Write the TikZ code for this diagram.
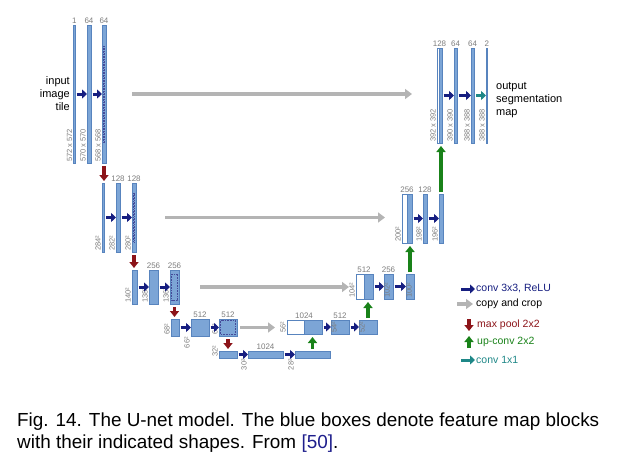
\documentclass[tikz,border=0pt]{standalone}
\usepackage{fontspec}
\setmainfont{Liberation Sans}
\usetikzlibrary{arrows.meta}
\usetikzlibrary{positioning}

\definecolor{boxblue}{RGB}{124,165,214}
\definecolor{boxedge}{RGB}{88,132,190}
\definecolor{convblue}{RGB}{22,30,128}
\definecolor{poolred}{RGB}{140,20,25}
\definecolor{upgreen}{RGB}{25,130,25}
\definecolor{outteal}{RGB}{30,135,135}
\definecolor{copygray}{RGB}{180,180,180}
\definecolor{numgray}{RGB}{125,125,125}
\definecolor{refblue}{RGB}{30,30,140}

\begin{document}
\begin{tikzpicture}[x=1pt, y=-1pt,
  fmap/.style={draw=boxedge, fill=boxblue, line width=.4pt, inner sep=0pt, outer sep=0pt},
  cmap/.style={draw=boxedge, fill=white, line width=.4pt, inner sep=0pt, outer sep=0pt},
  crop/.style={draw=convblue!80, line width=.6pt, dash pattern=on .8pt off .8pt},
  num/.style={text=numgray, font=\fontsize{8}{9}\selectfont, inner sep=1pt},
  dim/.style={text=numgray, font=\fontsize{7.5}{9}\selectfont, inner sep=1pt, rotate=90, anchor=south west},
  dimlow/.style={dim, anchor=south east},
  conv/.style={draw=convblue, line width=3pt, -{Triangle[length=5pt,width=9pt]}, shorten <=1.5pt},
  oneconv/.style={draw=outteal, line width=3pt, -{Triangle[length=5pt,width=9pt]}, shorten <=2pt},
  copyarr/.style={draw=copygray, line width=3.5pt, -{Triangle[length=7pt,width=10pt]}},
  pool/.style={draw=poolred, line width=3.2pt, -{Triangle[length=6pt,width=9pt]}, shorten <=3pt, shorten >=2pt},
  upconv/.style={draw=upgreen, line width=3.2pt, -{Triangle[length=6pt,width=9pt]}, shorten <=2pt, shorten >=3pt},
  txt/.style={font=\fontsize{11}{13}\selectfont, inner sep=0pt},
  leg/.style={font=\fontsize{10.5}{12}\selectfont, inner sep=0pt, anchor=west},
  capt/.style={font=\fontsize{18.9}{22}\selectfont, inner sep=0pt, anchor=base west}]

\useasboundingbox (0,0) rectangle (621,460);

% feature maps: name/left/right/top/bottom
\foreach \nm/\xa/\xb/\ya/\yb in {a1/73.5/75/25/163, a2/87/91/25/163, a3/102/106/25/163,
  b1/102/104.5/183/252, b2/116/120/183/252, b3/132/136/183/252,
  c1/132/137/270/304, c2/149/158/270/304, c3/170/179/270/304,
  d1/171/179/319/336, d2/191/209/319/336, d3/219/237/319/336,
  e1/219/237/351/358, e2/248/283/351/358, e3/295/330/351/358,
  f1/304/322/320/334, f2/331/349/320/334, f3/359/377/320/334,
  g1/364/373/274/299, g2/384/393/274/299, g3/406/414/274/299,
  h1/407/412/194/243, h2/423/427/194/243, h3/439/443/194/243,
  k1/439.5/442/48/143, k2/454/457/48/143, k3/471/474/48/143, k4/486/487.5/48/143}
{\node[fmap, minimum width={(\xb-\xa)*1pt}, minimum height={(\yb-\ya)*1pt}] (\nm) at ({(\xa+\xb)/2},{(\ya+\yb)/2}) {};}

% copied halves
\foreach \nm/\xa/\xb/\ya/\yb in {f0/287/304/320/334, g0/356/364/274/299, h0/402/407/194/243, k0/437/439.5/48/143}
{\node[cmap, minimum width={(\xb-\xa)*1pt}, minimum height={(\yb-\ya)*1pt}] (\nm) at ({(\xa+\xb)/2},{(\ya+\yb)/2}) {};}

% crop regions
\foreach \nm/\dx/\d in {a3/1.5/21, b3/1.5/10, c3/1.5/4, d3/1.5/1.5}
{\draw[crop] ([xshift=\dx pt, yshift=-\d pt]\nm.north west) rectangle ([xshift=-\dx pt, yshift=\d pt]\nm.south east);}

% channels
\foreach \nm/\t in {a1/1, a2/64, a3/64, b2/128, b3/128, c2/256, c3/256, d2/512, d3/512, e2/1024,
  f2/512, g2/256, h2/128, k2/64, k3/64, k4/2}
{\node[num, above=0pt of \nm] (n\nm) {\t};}
\foreach \nm/\t in {f1/1024, g1/512, h1/256, k1/128}
{\node[num, above=0pt of \nm.north west] (n\nm) {\t};}

% sizes
\foreach \nm/\t in {a1/572 x 572, a2/570 x 570, a3/568 x 568, b1/284², b2/282², b3/280²,
  c1/140², c2/138², c3/136², d1/68², d3/64², e1/32², f0/56², g0/104², h0/200², h2/198², h3/196²,
  k0/392 x 392, k2/390 x 390, k3/388 x 388, k4/388 x 388}
{\node[dim] (s\nm) at (\nm.south west) {\t};}
\foreach \nm/\t in {d2/66², e2/30², e3/28²}
{\node[dimlow] (s\nm) at (\nm.south west) {\t};}
\foreach \nm/\t in {f2/54², f3/52², g2/102², g3/100²}
{\node[dim, yshift=-7pt] (s\nm) at (\nm.south west) {\t};}

% operations
\foreach \s/\t in {a1/a2, a2/a3, b1/b2, b2/b3, c1/c2, c2/c3, d1/d2, d2/d3, e1/e2, e2/e3,
  f1/f2, f2/f3, g1/g2, g2/g3, h1/h2, h2/h3, k1/k2, k2/k3}
{\draw[conv] (\s.east) -- (\t.west);}
\draw[oneconv] (k3.east) -- (k4.west);

\draw[copyarr, shorten <=26pt, shorten >=25pt] (a3.east) -- (a3.east -| k0.west);
\draw[copyarr, shorten <=29pt, shorten >=17pt] (b3.east) -- (b3.east -| h0.west);
\draw[copyarr, shorten <=21pt, shorten >=7pt] (c3.east) -- (c3.east -| g0.west);
\draw[copyarr, shorten <=3pt, shorten >=12pt] (d3.east) -- (d3.east -| f0.west);

\foreach \s/\t in {a3/b1, b3/c1, c3/d1, d3/e1}
{\draw[pool] (\s.south) -- (\s.south |- \t.north);}
\foreach \s/\t in {e3/f1, f3/g1, g3/h1, h3/k1}
{\draw[upconv] (\s.north) -- (\s.north |- \t.south);}

\node[txt, align=right, anchor=east] (inp) at (70,93.5) {input\\image\\tile};
\node[txt, align=left, anchor=west] (outp) at (496,100.5) {output\\segmentation\\map};

% legend
\node[leg, text=convblue] (lg1) at (476,289) {conv 3x3, ReLU};
\node[leg] (lg2) at (476,304) {copy and crop};
\node[leg, text=poolred] (lg3) at (477,325) {max pool 2x2};
\node[leg, text=upgreen] (lg4) at (477,342) {up-conv 2x2};
\node[leg, text=outteal] (lg5) at (476,360) {conv 1x1};
\coordinate (lg1s) at (461,289);
\coordinate (lg2s) at (457,304);
\coordinate (lg3s) at (469,319);
\coordinate (lg3e) at (469,331);
\coordinate (lg4s) at (469,348);
\coordinate (lg4e) at (469,336);
\coordinate (lg5s) at (461,360);
\draw[conv, shorten <=0pt, shorten >=1pt] (lg1s) -- (lg1.west);
\draw[copyarr, shorten >=3pt] (lg2s) -- (lg2.west);
\draw[pool, shorten <=0pt, shorten >=0pt] (lg3s) -- (lg3e);
\draw[upconv, shorten <=0pt, shorten >=0pt] (lg4s) -- (lg4e);
\draw[oneconv, shorten <=0pt, shorten >=1pt] (lg5s) -- (lg5.west);

\node[capt] (cap1) at (17,426) {Fig. 14. The U-net model. The blue boxes denote feature map blocks};
\node[capt] (cap2) at (17,448) {with their indicated shapes. From \textcolor{refblue}{[50]}.};
\end{tikzpicture}
\end{document}
